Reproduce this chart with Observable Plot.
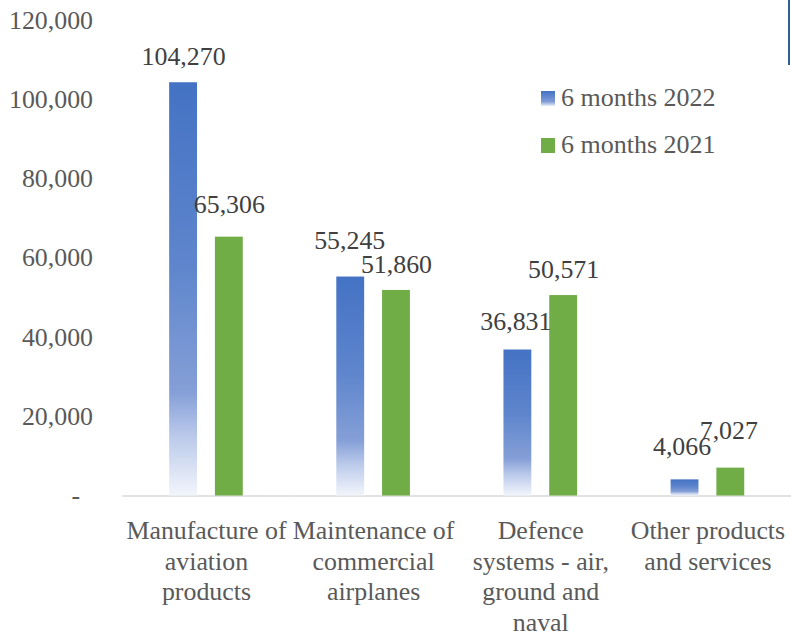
<!DOCTYPE html>
<html>
<head>
<meta charset="utf-8">
<script src="https://cdn.jsdelivr.net/npm/d3@7"></script>
<script src="https://cdn.jsdelivr.net/npm/@observablehq/plot@0.6"></script>
<style>
  html, body { margin: 0; padding: 0; background: #fff; overflow: hidden; }
  #wrap { position: relative; width: 791px; height: 634px; overflow: hidden; font-family: "Liberation Serif", "Times New Roman", serif; }
  #chart { position: absolute; left: 0; top: 0; }
  .legend { position: absolute; left: 541px; top: 84px; font-size: 26px; color: #595959; }
  .legend .row { display: flex; align-items: center; height: 28px; margin-bottom: 19px; }
  .legend .sw { width: 14px; height: 15px; margin-right: 6px; }
  .edge { position: absolute; left: 788px; top: 0; width: 2px; height: 65px; background: #2f6090; }
</style>
</head>
<body>
<div id="wrap">
  <div id="chart"></div>
  <div class="legend" id="legend"></div>
  <div class="edge"></div>
</div>
<script>
// ---- data ----
const categories = [
  "Manufacture of aviation products",
  "Maintenance of commercial airplanes",
  "Defence systems - air, ground and naval",
  "Other products and services"
];
const categoryLabels = [
  "Manufacture of\naviation\nproducts",
  "Maintenance of\ncommercial\nairplanes",
  "Defence\nsystems - air,\nground and\nnaval",
  "Other products\nand services"
];
const seriesNames = ["6 months 2022", "6 months 2021"];
const values2022 = [104270, 55245, 36831, 4066];
const values2021 = [65306, 51860, 50571, 7027];
const yTicks = [0, 20000, 40000, 60000, 80000, 100000, 120000];

// table built from the arrays
const rows = [];
categories.forEach((c, i) => {
  rows.push({category: c, series: seriesNames[0], value: values2022[i]});
  rows.push({category: c, series: seriesNames[1], value: values2021[i]});
});
const labelOf = new Map(categories.map((c, i) => [c, categoryLabels[i]]));
const fmt = d3.format(",");

const green = "#70ad47";
const textColor = "#595959";
const valueColor = "#404040";

// value label marks (small hand placement as in the reference)
function valueLabels(filter, dy, dx = 0) {
  return Plot.text(rows.filter(filter), {
    fx: "category", x: "series", y: "value",
    text: d => fmt(d.value), dy, dx,
    fill: valueColor, fontSize: 26
  });
}
const special = new Map([[55245, [-36, -1]], [65306, [-33, 0]], [4066, [-33, -3]], [7027, [-38, -2]], [36831, [-28, -2]]]);

const plot = Plot.plot({
  width: 795,
  height: 634,
  marginTop: 20,
  marginLeft: 123,
  marginRight: 0,
  marginBottom: 136,
  style: {fontFamily: "'Liberation Serif', 'Times New Roman', serif", fontSize: "26px", color: textColor, background: "transparent"},
  fx: {domain: categories, padding: 0, label: null},
  x: {domain: seriesNames, paddingInner: 0.4, paddingOuter: 1, axis: null},
  y: {domain: [0, 120000], label: null},
  marks: [
    Plot.ruleY([0], {stroke: "#d9d9d9", strokeWidth: 1.5}),
    Plot.barY(rows.filter(d => d.series === seriesNames[0]), {fx: "category", x: "series", y: "value", fill: "url(#blueGrad)"}),
    Plot.barY(rows.filter(d => d.series === seriesNames[1]), {fx: "category", x: "series", y: "value", fill: green}),
    valueLabels(d => !special.has(d.value), -26),
    ...[...special].map(([v, [dy, dx]]) => valueLabels(d => d.value === v, dy, dx)),
    Plot.axisY({ticks: yTicks, tickSize: 0, tickPadding: 30, label: null, fontSize: 26,
      tickFormat: d => d === 0 ? "-\u00a0\u00a0" : fmt(d)}),
    Plot.axisFx({anchor: "bottom", tickSize: 0, tickPadding: 21, label: null, fontSize: 26, lineHeight: 1.19,
      tickFormat: d => labelOf.get(d)})
  ]
});

// gradient definition for the 2022 bars
const defs = d3.select(plot).insert("defs", ":first-child");
const grad = defs.append("linearGradient").attr("id", "blueGrad")
  .attr("x1", 0).attr("y1", 0).attr("x2", 0).attr("y2", 1);
[[0, "#4472c4"], [0.45, "#5f86cd"], [0.75, "#859fd7"], [0.86, "#bccbeb"], [1, "#f2f5fb"]]
  .forEach(([o, c]) => grad.append("stop").attr("offset", o).attr("stop-color", c));

document.getElementById("chart").appendChild(plot);

// legend
const legend = document.getElementById("legend");
seriesNames.forEach((s, i) => {
  const row = document.createElement("div");
  row.className = "row";
  const sw = document.createElement("div");
  sw.className = "sw";
  sw.style.background = i === 0 ? "linear-gradient(#4472c4, #7f9bd6 70%, #e8eef8)" : green;
  const t = document.createElement("span");
  t.textContent = s;
  row.appendChild(sw); row.appendChild(t);
  legend.appendChild(row);
});
</script>
</body>
</html>
